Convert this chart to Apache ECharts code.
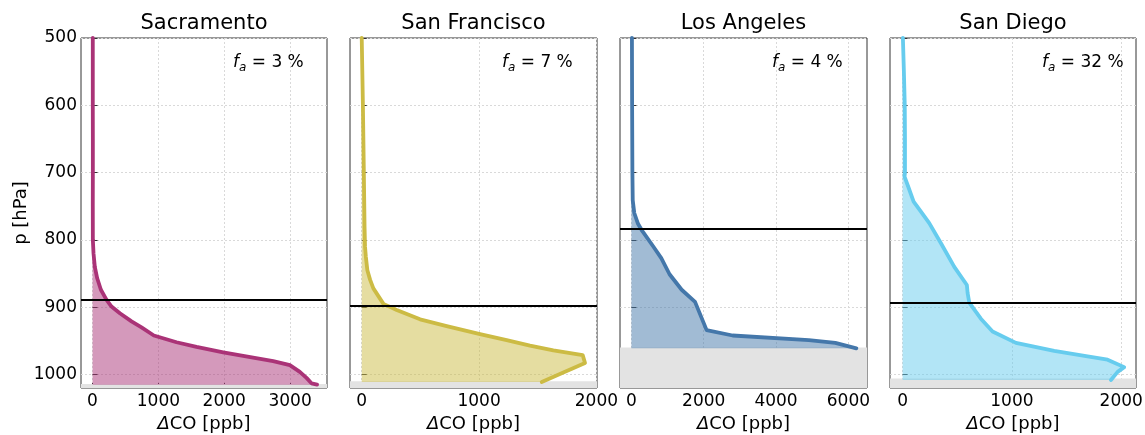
<!DOCTYPE html>
<html><head><meta charset="utf-8">
<script src="https://cdn.jsdelivr.net/npm/echarts@6/dist/echarts.min.js"></script>
<style>html,body{margin:0;padding:0;background:#fff}#c{width:1145px;height:435px}</style>
</head><body><div id="c"></div>
<script>
// ---- data ----
const cities = ['Sacramento', 'San Francisco', 'Los Angeles', 'San Diego'];
const faValues = ['3', '7', '4', '32'];

const sacP  = [500, 550, 600, 650, 700, 750, 800, 820, 840, 857, 874, 889, 899, 909, 921, 930, 942, 952, 959, 967, 975, 980, 986, 996, 1005, 1013, 1015];
const sacCO = [4, 4, 4, 5, 5, 4, 5, 15, 35, 71, 127, 213, 288, 415, 592, 744, 931, 1275, 1579, 1984, 2439, 2743, 2996, 3147, 3249, 3324, 3410];

const sfP  = [500, 600, 700, 780, 810, 825, 845, 859, 872, 895, 904, 918, 928, 940, 949, 957, 964, 971, 983, 997, 1011];
const sfCO = [0, 10, 18, 24, 28, 35, 48, 71, 99, 185, 298, 497, 724, 1008, 1235, 1434, 1633, 1883, 1903, 1718, 1534];

const laP  = [500, 600, 700, 741, 760, 776, 785, 809, 827, 851, 874, 892, 934, 942, 949, 953, 961];
const laCO = [15, 20, 28, 37, 80, 183, 280, 596, 826, 1055, 1390, 1760, 2080, 2800, 4906, 5640, 6221];

const sdP  = [500, 550, 600, 650, 700, 706, 721, 743, 758, 775, 805, 840, 867, 879, 893, 917, 936, 953, 965, 973, 978, 989, 996, 1008];
const sdCO = [3, 12, 20, 22, 22, 18, 52, 101, 168, 244, 351, 473, 588, 595, 610, 716, 823, 1037, 1387, 1692, 1875, 2027, 1967, 1906];

const profilesP  = [sacP, sfP, laP, sdP];
const profilesCO = [sacCO, sfCO, laCO, sdCO];

const boundaryLayerP = [889, 898, 783, 893];
const surfaceP = [1014, 1010, 960, 1006];

const xTickValues = [[0, 1000, 2000, 3000], [0, 1000, 2000], [0, 2000, 4000, 6000], [0, 1000, 2000]];
const yTickValues = [500, 600, 700, 800, 900, 1000];

// ---- style / layout ----
const colors = ['#AA3377', '#CCBB44', '#4477AA', '#66CCEE'];
const xLimits = [[-175, 3560], [-100, 2005], [-315, 6515], [-115, 2135]];
const yLimits = [500, 1020];
const gridLefts = [81, 350, 620, 890];
const gridWidths = [246, 247, 247, 246];
const gridTop = 38, gridHeight = 350;
const FONT = '"DejaVu Sans", sans-serif';

const grids = [], xAxes = [], yAxes = [], series = [], graphics = [];
const gridLineStyle = { color: '#d9d9d9', width: 1, type: [2, 2] };
const plain = v => String(v);

for (let i = 0; i < 4; i++) {
  grids.push({
    left: gridLefts[i], top: gridTop, width: gridWidths[i], height: gridHeight,
    show: true, borderColor: '#333', borderWidth: 1, backgroundColor: 'transparent',
    containLabel: false, outerBoundsMode: 'none'
  });
  xAxes.push({
    gridIndex: i, type: 'value', min: xLimits[i][0], max: xLimits[i][1],
    axisLine: { show: false },
    axisTick: { show: true, inside: true, length: 5, lineStyle: { color: '#333' }, customValues: xTickValues[i] },
    axisLabel: { customValues: xTickValues[i], formatter: plain, fontSize: 17, color: '#000', margin: 5, fontFamily: FONT },
    splitLine: { show: true, lineStyle: gridLineStyle },
    name: '{d|Δ}CO [ppb]', nameLocation: 'middle', nameGap: 27,
    nameTextStyle: { fontSize: 18, color: '#000', fontFamily: FONT,
      rich: { d: { fontSize: 18, fontStyle: 'italic', color: '#000', fontFamily: FONT } } }
  });
  yAxes.push({
    gridIndex: i, type: 'value', inverse: true, min: yLimits[0], max: yLimits[1],
    axisLine: { show: false },
    axisTick: { show: true, inside: true, length: 5, lineStyle: { color: '#333' }, customValues: yTickValues },
    axisLabel: { show: i === 0, customValues: yTickValues, formatter: plain, fontSize: 17, color: '#000', margin: 4, fontFamily: FONT },
    splitLine: { show: true, lineStyle: gridLineStyle },
    name: i === 0 ? 'p [hPa]' : '', nameLocation: 'middle', nameGap: 50,
    nameTextStyle: { fontSize: 18, color: '#000', fontFamily: FONT }
  });

  const P = profilesP[i], CO = profilesCO[i], col = colors[i];
  series.push({
    type: 'custom', xAxisIndex: i, yAxisIndex: i, silent: true, z: 2,
    data: [[0, P[0]]],
    renderItem: function (params, api) {
      const pts = P.map((pp, k) => api.coord([CO[k], pp]));
      pts.push(api.coord([0, P[P.length - 1]]));
      pts.push(api.coord([0, P[0]]));
      return { type: 'polygon', shape: { points: pts }, style: { fill: col, opacity: 0.5 } };
    },
    markArea: {
      silent: true, itemStyle: { color: '#e3e3e3', opacity: 1 }, label: { show: false },
      data: [[{ yAxis: surfaceP[i] }, { yAxis: yLimits[1] }]]
    }
  });
  series.push({
    type: 'line', xAxisIndex: i, yAxisIndex: i, z: 3,
    data: P.map((pp, k) => [CO[k], pp]),
    showSymbol: false, symbol: 'none', smooth: false,
    lineStyle: { color: col, width: 3.8, cap: 'round', join: 'round' },
    itemStyle: { color: col },
    markLine: {
      silent: true, symbol: ['none', 'none'], label: { show: false },
      lineStyle: { color: '#000', width: 2, type: 'solid' },
      data: [{ yAxis: boundaryLayerP[i] }]
    }
  });

  graphics.push({
    type: 'text', x: gridLefts[i] + gridWidths[i] / 2, y: 24, z: 10,
    style: { text: cities[i], align: 'center', verticalAlign: 'middle', fontSize: 21, fontFamily: FONT, fill: '#000' }
  });
  graphics.push({
    type: 'text', x: gridLefts[i] + 152, y: 63, z: 10,
    style: {
      text: '{f|f}{s|a}{n| = ' + faValues[i] + ' %}', align: 'left', verticalAlign: 'middle',
      fontFamily: FONT, fill: '#000',
      rich: {
        f: { fontSize: 17, fontStyle: 'italic', fontFamily: FONT, fill: '#000', lineHeight: 22 },
        s: { fontSize: 12, fontStyle: 'italic', fontFamily: FONT, fill: '#000', lineHeight: 12, verticalAlign: 'bottom' },
        n: { fontSize: 17, fontFamily: FONT, fill: '#000', lineHeight: 22 }
      }
    }
  });
}

const chart = echarts.init(document.getElementById('c'), null, { renderer: 'canvas' });
chart.setOption({
  animation: false,
  backgroundColor: '#fff',
  textStyle: { fontFamily: FONT },
  grid: grids, xAxis: xAxes, yAxis: yAxes, series: series, graphic: graphics
});
</script>
</body></html>
